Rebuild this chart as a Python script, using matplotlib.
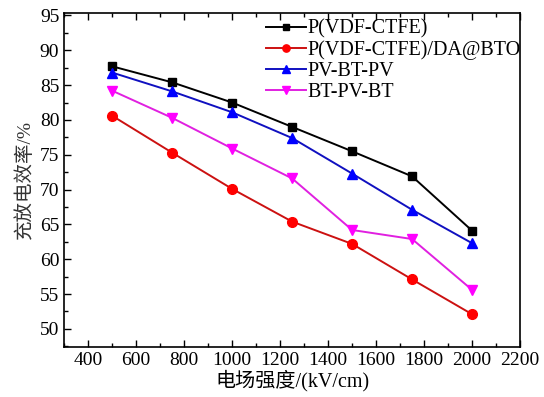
import numpy as np
import matplotlib.pyplot as plt
from matplotlib.ticker import MultipleLocator

field = [500, 750, 1000, 1250, 1500, 1750, 2000]
eff_pure = [87.7, 85.4, 82.5, 79.0, 75.5, 71.9, 64.1]
eff_da_bto = [80.6, 75.3, 70.1, 65.4, 62.2, 57.1, 52.1]
eff_pv_bt_pv = [86.8, 84.1, 81.1, 77.4, 72.3, 67.1, 62.3]
eff_bt_pv_bt = [84.2, 80.3, 75.9, 71.6, 64.2, 62.9, 55.6]
labels = ['P(VDF-CTFE)', 'P(VDF-CTFE)/DA@BTO', 'PV-BT-PV', 'BT-PV-BT']

plt.rcParams['font.family'] = ['Liberation Serif', 'Noto Sans CJK SC']

fig = plt.figure(figsize=(5.44, 3.97), dpi=100)
ax = fig.add_axes([0.118, 0.126, 0.838, 0.842])

series = [
    (eff_pure, '#000000', '#000000', 's', 6),
    (eff_da_bto, '#cc1111', '#ff0000', 'o', 7),
    (eff_pv_bt_pv, '#1010c0', '#0000ff', '^', 7),
    (eff_bt_pv_bt, '#e020e0', '#ff00ff', 'v', 7),
]
for (vals, lc, mc, mk, ms), lab in zip(series, labels):
    ax.plot(field, vals, color=lc, lw=1.4, marker=mk, ms=ms,
            mfc=mc, mec=mc, label=lab)

ax.set_xlim(300, 2200)
ax.set_ylim(47.4, 95.4)
ax.xaxis.set_major_locator(MultipleLocator(200))
ax.xaxis.set_minor_locator(MultipleLocator(100))
ax.yaxis.set_major_locator(MultipleLocator(5))
ax.yaxis.set_minor_locator(MultipleLocator(2.5))
ax.tick_params(which='both', direction='in', top=True, right=False,
               labelsize=14, width=1.0)
ax.tick_params(which='major', length=5)
ax.tick_params(which='minor', length=3)
for s in ax.spines.values():
    s.set_linewidth(1.2)

ax.set_xlabel('电场强度/(kV/cm)', fontsize=14.5, labelpad=1)
ax.set_ylabel('充放电效率/%', fontsize=14, color='#333333', labelpad=4)

ax.legend(loc='upper right', bbox_to_anchor=(1.005, 0.985), frameon=False,
          fontsize=14.5, handlelength=2.0, handletextpad=0.05,
          labelspacing=0.08, borderaxespad=0.0, borderpad=0.1,
          markerscale=0.75)

fig.savefig('out.png', dpi=100)
